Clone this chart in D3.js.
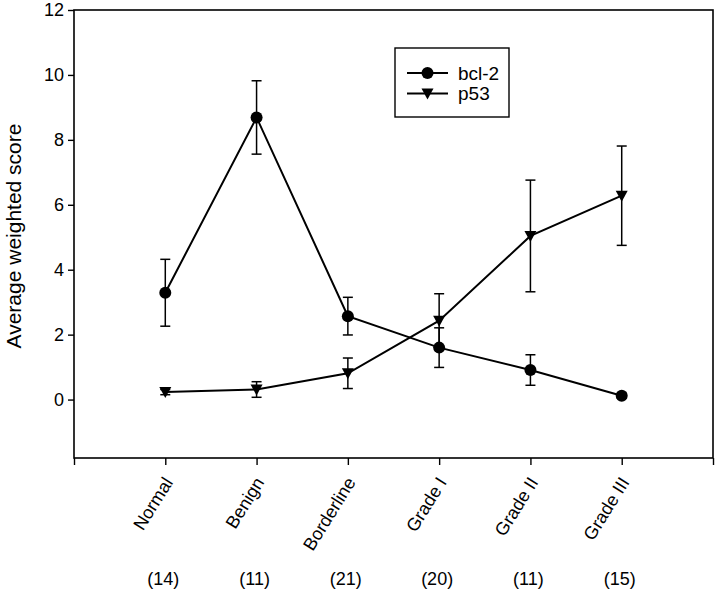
<!DOCTYPE html>
<html>
<head>
<meta charset="utf-8">
<script src="https://cdn.jsdelivr.net/npm/d3@7"></script>
<style>
  body { margin: 0; background: #fff; }
  svg { display: block; }
  text { font-family: "Liberation Sans", Arial, Helvetica, sans-serif; fill: #000; }
</style>
</head>
<body>
<svg id="chart" width="720" height="592"></svg>
<script>
const categories = ["Normal", "Benign", "Borderline", "Grade I", "Grade II", "Grade III"];
const counts = ["(14)", "(11)", "(21)", "(20)", "(11)", "(15)"];
const bcl2Mean = [3.29, 8.69, 2.57, 1.60, 0.91, 0.12];
const bcl2Err  = [1.03, 1.13, 0.58, 0.61, 0.47, 0.08];
const p53Mean  = [0.23, 0.31, 0.81, 2.43, 5.04, 6.28];
const p53Err   = [0.08, 0.24, 0.47, 0.83, 1.72, 1.53];
const yTicks = [0, 2, 4, 6, 8, 10, 12];
const seriesNames = ["bcl-2", "p53"];

const svg = d3.select("#chart");
const plotL = 74, plotR = 713, plotT = 10, plotB = 458;

const x = d3.scaleLinear().domain([0, 7]).range([plotL, plotR]);
const y = d3.scaleLinear().domain([-1.8, 12]).range([plotB, plotT]);

// frame
svg.append("rect")
  .attr("x", plotL).attr("y", plotT)
  .attr("width", plotR - plotL).attr("height", plotB - plotT)
  .attr("fill", "none").attr("stroke", "#000").attr("stroke-width", 1.6);

// y axis
const yAxis = svg.append("g").attr("transform", `translate(${plotL},0)`)
  .call(d3.axisLeft(y).tickValues(yTicks).tickSize(6).tickPadding(4).tickFormat(d3.format("d")));
yAxis.select(".domain").remove();
yAxis.selectAll(".tick line").attr("stroke", "#000").attr("stroke-width", 1.4);
yAxis.selectAll(".tick text").style("font-size", "18px")
  .style("font-family", '"Liberation Sans", Arial, sans-serif');

// x axis
const xAxis = svg.append("g").attr("transform", `translate(0,${plotB})`)
  .call(d3.axisBottom(x).tickValues(d3.range(0, 8)).tickSize(7).tickFormat(""));
xAxis.select(".domain").remove();
xAxis.selectAll(".tick line").attr("stroke", "#000").attr("stroke-width", 1.4);

// x category labels (rotated)
svg.append("g").selectAll("text").data(categories).join("text")
  .attr("transform", (d, i) => `translate(${x(i + 1) + 3},${plotB + 21}) rotate(-58)`)
  .attr("text-anchor", "end")
  .attr("dy", "0.35em")
  .style("font-size", "18px")
  .text(d => d);

// counts
svg.append("g").selectAll("text").data(counts).join("text")
  .attr("x", (d, i) => x(i + 1) - 2)
  .attr("y", 585)
  .attr("text-anchor", "middle")
  .style("font-size", "18px")
  .text(d => d);

// y label
svg.append("text")
  .attr("transform", `translate(21,236) rotate(-90)`)
  .attr("text-anchor", "middle")
  .style("font-size", "21px")
  .text("Average weighted score");

const line = d3.line().x((d, i) => x(i + 1)).y(d => y(d));

function markerPath(type) {
  if (type === "circle") return d3.symbol().type(d3.symbolCircle).size(Math.PI * 36)();
  return "M-6,-5L6,-5L0,6Z";
}

function drawSeries(means, errs, markerType) {
  const g = svg.append("g");
  g.append("path").datum(means)
    .attr("d", line)
    .attr("fill", "none").attr("stroke", "#000").attr("stroke-width", 2);
  const eb = g.append("g").selectAll("g").data(means).join("g");
  eb.append("line")
    .attr("x1", (d, i) => x(i + 1)).attr("x2", (d, i) => x(i + 1))
    .attr("y1", (d, i) => y(d + errs[i])).attr("y2", (d, i) => y(d - errs[i]))
    .attr("stroke", "#000").attr("stroke-width", 1.5);
  [1, -1].forEach(s => {
    eb.append("line")
      .attr("x1", (d, i) => x(i + 1) - 5).attr("x2", (d, i) => x(i + 1) + 5)
      .attr("y1", (d, i) => y(d + s * errs[i])).attr("y2", (d, i) => y(d + s * errs[i]))
      .attr("stroke", "#000").attr("stroke-width", 1.5);
  });
  g.append("g").selectAll("path").data(means).join("path")
    .attr("transform", (d, i) => `translate(${x(i + 1)},${y(d)})`)
    .attr("d", markerPath(markerType))
    .attr("fill", "#000");
}

drawSeries(bcl2Mean, bcl2Err, "circle");
drawSeries(p53Mean, p53Err, "triangle");

// legend
const legend = svg.append("g");
legend.append("rect")
  .attr("x", 395).attr("y", 48).attr("width", 114).attr("height", 69)
  .attr("fill", "#fff").attr("stroke", "#000").attr("stroke-width", 1.4);
const legendRows = [
  { name: seriesNames[0], type: "circle", yy: 73 },
  { name: seriesNames[1], type: "triangle", yy: 93.5 }
];
legendRows.forEach(r => {
  legend.append("line").attr("x1", 407).attr("x2", 448).attr("y1", r.yy).attr("y2", r.yy)
    .attr("stroke", "#000").attr("stroke-width", 2);
  legend.append("path").attr("transform", `translate(427.5,${r.yy})`)
    .attr("d", markerPath(r.type)).attr("fill", "#000");
  legend.append("text").attr("x", 458).attr("y", r.yy).attr("dy", "0.35em")
    .style("font-size", "19px").text(r.name);
});
</script>
</body>
</html>
